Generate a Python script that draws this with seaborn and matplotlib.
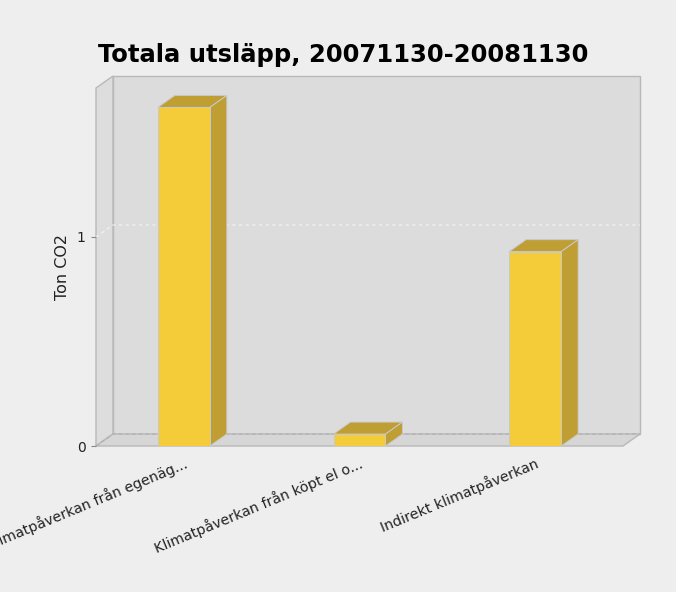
import matplotlib
matplotlib.use("Agg")
import matplotlib.pyplot as plt
import matplotlib.transforms as mtransforms
from matplotlib.patches import Polygon
import seaborn as sns

categories = ["Klimatpåverkan från egenäg...",
              "Klimatpåverkan från köpt el o...",
              "Indirekt klimatpåverkan"]
values = [1.62, 0.057, 0.93]
yticks = [0, 1]
title = "Totala utsläpp, 20071130-20081130"
ylabel = "Ton CO2"

sns.set_theme(style="white")
plt.rcParams['font.family'] = ['DejaVu Sans']

W, H = 676, 592
fig = plt.figure(figsize=(W / 100, H / 100), dpi=100, facecolor='#eeeeee')
L, B, R, T = 96, 446, 623, 88          # front plane of the plot, pixels
ax = fig.add_axes([L / W, (H - B) / H, (R - L) / W, (B - T) / H])
ymax = (B - T) / 209.0
x0, x1 = -0.5, 2.5
dx = 17 / (R - L) * (x1 - x0)
dy = 12 / (B - T) * ymax

FRONT = '#f4cb38'
DARK = '#bf9f33'
WALL_EC = '#b8b8b8'

ax.patch.set_alpha(0)
for s in ax.spines.values():
    s.set_visible(False)

# walls
ax.add_patch(Polygon([(x0 + dx, dy), (x1 + dx, dy), (x1 + dx, ymax + dy), (x0 + dx, ymax + dy)],
                     closed=True, fc='#dcdcdc', ec=WALL_EC, lw=1, clip_on=False, zorder=0))
ax.add_patch(Polygon([(x0, 0), (x0 + dx, dy), (x0 + dx, ymax + dy), (x0, ymax)],
                     closed=True, fc='#dddddd', ec=WALL_EC, lw=1, clip_on=False, zorder=0))
ax.add_patch(Polygon([(x0, 0), (x1, 0), (x1 + dx, dy), (x0 + dx, dy)],
                     closed=True, fc='#d6d6d6', ec=WALL_EC, lw=1, clip_on=False, zorder=0.2))

# gridlines
for v in yticks:
    col = '#f4f4f4' if v > 0 else '#b0b0b0'
    ax.plot([x0, x0 + dx, x1 + dx], [v, v + dy, v + dy], ls=(0, (3, 3)), color=col,
            lw=0.8, clip_on=False, zorder=0.5)

sns.barplot(x=categories, y=values, color=FRONT, saturation=1, width=0.296,
            edgecolor='#c9c9c9', linewidth=0.7, ax=ax, zorder=3)

for p in list(ax.patches):
    if not isinstance(p, matplotlib.patches.Rectangle):
        continue
    x, w, h = p.get_x(), p.get_width(), p.get_height()
    ax.add_patch(Polygon([(x, h), (x + w, h), (x + w + dx, h + dy), (x + dx, h + dy)],
                         closed=True, fc=DARK, ec='#c9c9c9', lw=0.7, zorder=2, clip_on=False))
    ax.add_patch(Polygon([(x + w, 0), (x + w + dx, dy), (x + w + dx, h + dy), (x + w, h)],
                         closed=True, fc=DARK, ec='#c9c9c9', lw=0.7, zorder=2, clip_on=False))

ax.set_xlim(x0, x1)
ax.set_ylim(0, ymax)
ax.set_yticks(yticks)
ax.set_yticklabels([str(v) for v in yticks])
ax.tick_params(axis='y', left=True, length=3.5, width=0.8, color='#888888', pad=4,
               labelsize=10, labelcolor='#222222')
ax.set_xticks([])
ax.set_xlabel('')
ax.set_ylabel(ylabel, fontsize=11.5, color='#222222', labelpad=5)

off = mtransforms.ScaledTranslation(3 / 100, -17 / 100, fig.dpi_scale_trans)
for i, lab in enumerate(categories):
    ax.text(i, 0, lab, transform=ax.get_xaxis_transform() + off, rotation=22.5,
            rotation_mode='anchor', ha='right', va='center', fontsize=10.2,
            color='#222222', clip_on=False)

fig.text(343 / W, 1 - 62 / H, title, ha='center', va='baseline', fontsize=17.5,
         fontweight='bold', color='black')

fig.savefig('out.png', dpi=100, facecolor=fig.get_facecolor())
